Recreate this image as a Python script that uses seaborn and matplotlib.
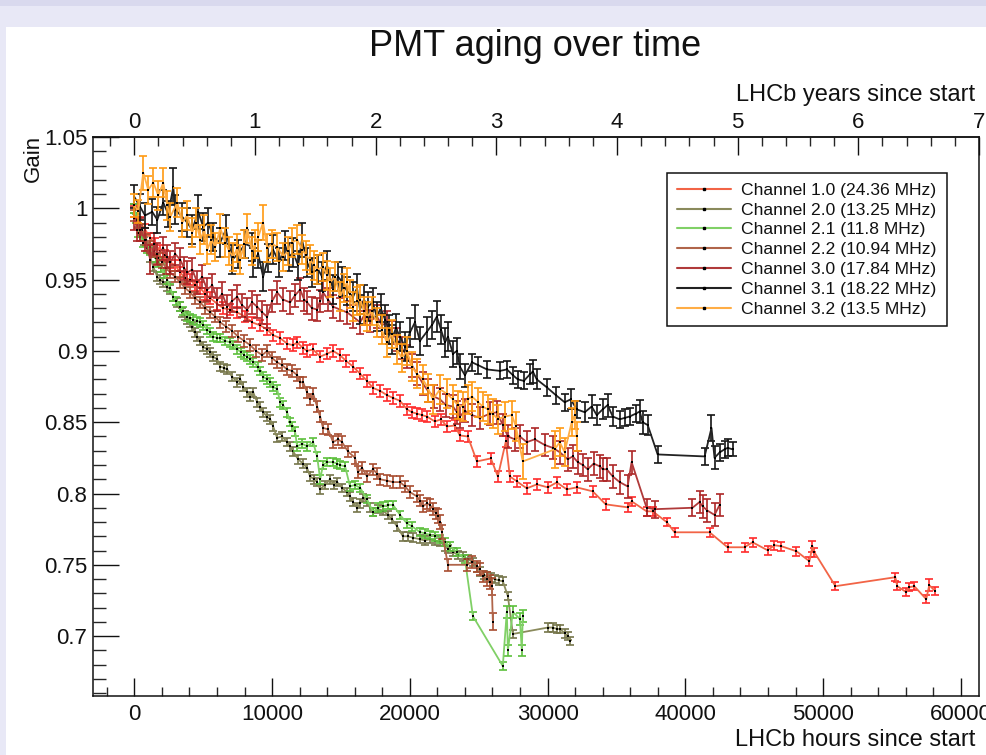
import numpy as np
import pandas as pd
import matplotlib
matplotlib.use("Agg")
import matplotlib.pyplot as plt
from matplotlib.lines import Line2D
from matplotlib.patches import Rectangle
from matplotlib.ticker import MultipleLocator, FuncFormatter
import seaborn as sns

# ---------------- data (hours, gain, error) ----------------
channel_names = [
    "Channel 1.0 (24.36 MHz)",
    "Channel 2.0 (13.25 MHz)",
    "Channel 2.1 (11.8 MHz)",
    "Channel 2.2 (10.94 MHz)",
    "Channel 3.0 (17.84 MHz)",
    "Channel 3.1 (18.22 MHz)",
    "Channel 3.2 (13.5 MHz)",
]
bar_colors = ["#ff2b2b", "#76764a", "#5cc03c", "#a84d30", "#ad2626", "#151515", "#ff9a12"]
line_colors = ["#f26446", "#8a8a5c", "#80d066", "#b0654a", "#b03a3a", "#222222", "#ffad45"]

ch10 = [(0, 0.998, 0.004), (430, 0.990, 0.004), (790, 0.985, 0.004), (1160, 0.979, 0.004),
        (1520, 0.975, 0.004), (1880, 0.970, 0.004), (2250, 0.967, 0.004), (2610, 0.962, 0.004),
        (2970, 0.960, 0.004), (3330, 0.955, 0.004), (3700, 0.951, 0.004), (4060, 0.950, 0.004),
        (4420, 0.946, 0.004), (4790, 0.944, 0.004), (5150, 0.940, 0.004), (5510, 0.937, 0.004),
        (6020, 0.933, 0.004), (6450, 0.930, 0.004), (6960, 0.929, 0.004), (7470, 0.927, 0.004),
        (8040, 0.924, 0.004), (8550, 0.920, 0.004), (9120, 0.918, 0.004), (9640, 0.915, 0.004),
        (10080, 0.911, 0.004), (10590, 0.909, 0.004), (11100, 0.905, 0.004), (11530, 0.904, 0.004),
        (11820, 0.906, 0.004), (12250, 0.902, 0.004), (12540, 0.900, 0.004), (12980, 0.901, 0.004),
        (13490, 0.896, 0.004), (13990, 0.898, 0.004), (14430, 0.900, 0.004), (14930, 0.897, 0.004),
        (15370, 0.893, 0.004), (15880, 0.889, 0.004), (16390, 0.884, 0.004), (16890, 0.879, 0.004),
        (17330, 0.874, 0.004), (17840, 0.872, 0.004), (18340, 0.869, 0.004), (18780, 0.867, 0.004),
        (19290, 0.865, 0.004), (19790, 0.859, 0.004), (20150, 0.857, 0.004), (20510, 0.856, 0.004),
        (20880, 0.855, 0.004), (21240, 0.854, 0.004), (21820, 0.8505, 0.004), (22260, 0.852, 0.004),
        (22690, 0.847, 0.004), (23270, 0.8477, 0.004), (23630, 0.8407, 0.004), (24210, 0.840, 0.004),
        (24870, 0.8225, 0.004), (25880, 0.8246, 0.004), (26390, 0.812, 0.004), (26970, 0.8365, 0.004),
        (27260, 0.812, 0.004), (27770, 0.8085, 0.004), (28490, 0.8036, 0.004), (29220, 0.8064, 0.004),
        (30020, 0.8043, 0.004), (30670, 0.8078, 0.004), (31390, 0.8029, 0.004), (32120, 0.8043, 0.004),
        (33280, 0.8015, 0.004), (34220, 0.7924, 0.004), (35815, 0.7903, 0.003), (36105, 0.7945, 0.003),
        (37190, 0.7875, 0.003), (37630, 0.7875, 0.003), (38640, 0.780, 0.003), (39220, 0.7728, 0.003),
        (41760, 0.7728, 0.003), (43065, 0.7623, 0.003), (44300, 0.7623, 0.003), (44880, 0.7658, 0.003),
        (45970, 0.7602, 0.003), (46470, 0.7637, 0.003), (46980, 0.763, 0.003), (48070, 0.7595, 0.003),
        (49010, 0.7525, 0.003), (49230, 0.763, 0.004), (49370, 0.7588, 0.003), (50900, 0.735, 0.003),
        (55245, 0.7413, 0.003), (55390, 0.735, 0.003), (56040, 0.7308, 0.003), (56260, 0.7343, 0.003),
        (56620, 0.735, 0.003), (57490, 0.7259, 0.003), (57710, 0.7357, 0.004), (58145, 0.7315, 0.003)]

ch20 = [(0, 1.000, 0.003), (290, 0.990, 0.003), (430, 0.983, 0.003), (720, 0.977, 0.003),
        (940, 0.973, 0.003), (1160, 0.965, 0.003), (1380, 0.959, 0.003), (1670, 0.952, 0.003),
        (1880, 0.950, 0.003), (2100, 0.948, 0.003), (2390, 0.945, 0.003), (2610, 0.943, 0.003),
        (2830, 0.938, 0.003), (3120, 0.934, 0.003), (3330, 0.931, 0.003), (3480, 0.927, 0.003),
        (3700, 0.925, 0.003), (3840, 0.922, 0.003), (4060, 0.920, 0.003), (4200, 0.917, 0.003),
        (4420, 0.913, 0.003), (4570, 0.910, 0.003), (4790, 0.907, 0.003), (5000, 0.903, 0.003),
        (5290, 0.901, 0.003), (5510, 0.899, 0.003), (5730, 0.896, 0.003), (6020, 0.894, 0.003),
        (6240, 0.889, 0.003), (6530, 0.888, 0.003), (6740, 0.887, 0.003), (7100, 0.882, 0.003),
        (7470, 0.878, 0.003), (7690, 0.880, 0.003), (7900, 0.875, 0.003), (8190, 0.871, 0.003),
        (8410, 0.868, 0.003), (8630, 0.871, 0.003), (8920, 0.864, 0.003), (9140, 0.861, 0.003),
        (9350, 0.857, 0.003), (9640, 0.854, 0.003), (9860, 0.852, 0.003), (10080, 0.847, 0.003),
        (10370, 0.839, 0.003), (10730, 0.840, 0.003), (11090, 0.836, 0.003), (11310, 0.833, 0.003),
        (11530, 0.8295, 0.003), (11890, 0.824, 0.003), (12250, 0.821, 0.003), (12540, 0.818, 0.003),
        (12760, 0.812, 0.003), (13050, 0.810, 0.003), (13270, 0.808, 0.003), (13490, 0.803, 0.003),
        (13850, 0.806, 0.003), (14210, 0.810, 0.003), (14500, 0.806, 0.003), (14720, 0.808, 0.003),
        (15080, 0.804, 0.003), (15440, 0.801, 0.003), (15660, 0.798, 0.003), (15880, 0.794, 0.003),
        (16170, 0.790, 0.003), (16390, 0.793, 0.003), (16600, 0.797, 0.003), (16890, 0.794, 0.003),
        (17110, 0.790, 0.003), (17330, 0.787, 0.003), (17690, 0.789, 0.003), (18050, 0.788, 0.003),
        (18420, 0.785, 0.003), (18700, 0.782, 0.003), (19070, 0.777, 0.003), (19500, 0.770, 0.003),
        (19860, 0.770, 0.003), (20220, 0.769, 0.003), (20730, 0.768, 0.003), (21100, 0.767, 0.003),
        (21460, 0.768, 0.003), (21820, 0.767, 0.003), (22190, 0.766, 0.003), (22550, 0.763, 0.003),
        (22770, 0.761, 0.003), (23130, 0.759, 0.003), (23490, 0.757, 0.003), (23850, 0.756, 0.003),
        (24210, 0.754, 0.003), (24580, 0.752, 0.003), (24870, 0.748, 0.003), (25090, 0.7455, 0.003),
        (25380, 0.743, 0.003), (25590, 0.742, 0.003), (25880, 0.741, 0.003), (26170, 0.740, 0.003),
        (26460, 0.739, 0.003), (26750, 0.7385, 0.003), (27120, 0.728, 0.003), (27480, 0.7015, 0.003),
        (30020, 0.706, 0.003), (30380, 0.706, 0.003), (30670, 0.705, 0.003), (30890, 0.705, 0.003),
        (31250, 0.702, 0.003), (31460, 0.700, 0.003), (31610, 0.6965, 0.003)]

ch21 = [(0, 1.000, 0.003), (140, 0.993, 0.003), (290, 0.983, 0.003), (430, 0.980, 0.003),
        (650, 0.976, 0.003), (940, 0.972, 0.003), (1160, 0.970, 0.003), (1380, 0.969, 0.003),
        (1600, 0.965, 0.003), (1740, 0.962, 0.003), (1960, 0.958, 0.003), (2180, 0.954, 0.003),
        (2390, 0.950, 0.003), (2610, 0.944, 0.003), (2830, 0.938, 0.003), (3050, 0.935, 0.003),
        (3330, 0.931, 0.003), (3550, 0.928, 0.003), (3840, 0.924, 0.003), (4060, 0.923, 0.003),
        (4280, 0.922, 0.003), (4570, 0.921, 0.003), (4790, 0.920, 0.003), (5000, 0.918, 0.003),
        (5290, 0.915, 0.003), (5510, 0.913, 0.003), (5730, 0.910, 0.003), (6020, 0.909, 0.003),
        (6240, 0.909, 0.003), (6600, 0.907, 0.003), (6960, 0.906, 0.003), (7180, 0.904, 0.003),
        (7470, 0.901, 0.003), (7760, 0.899, 0.003), (7980, 0.897, 0.003), (8190, 0.896, 0.003),
        (8410, 0.894, 0.003), (8630, 0.892, 0.003), (8990, 0.889, 0.003), (9140, 0.886, 0.003),
        (9350, 0.882, 0.003), (9640, 0.880, 0.003), (9860, 0.878, 0.003), (10080, 0.875, 0.003),
        (10370, 0.873, 0.003), (10590, 0.864, 0.003), (10800, 0.862, 0.003), (11090, 0.857, 0.003),
        (11310, 0.850, 0.003), (11450, 0.847, 0.003), (11670, 0.8435, 0.003), (11820, 0.833, 0.003),
        (12180, 0.835, 0.003), (12540, 0.833, 0.003), (12980, 0.836, 0.003), (13270, 0.826, 0.003),
        (13490, 0.810, 0.003), (13700, 0.820, 0.003), (13990, 0.822, 0.003), (14430, 0.822, 0.003),
        (14720, 0.821, 0.003), (14930, 0.820, 0.003), (15300, 0.819, 0.003), (15660, 0.805, 0.003),
        (16010, 0.806, 0.003), (16390, 0.804, 0.003), (16890, 0.796, 0.003), (17330, 0.787, 0.003),
        (17690, 0.790, 0.003), (18050, 0.791, 0.003), (18420, 0.792, 0.003), (18780, 0.792, 0.003),
        (19290, 0.785, 0.003), (19790, 0.779, 0.003), (20150, 0.777, 0.003), (20730, 0.773, 0.003),
        (21100, 0.772, 0.003), (21460, 0.771, 0.003), (21820, 0.770, 0.003), (22190, 0.768, 0.003),
        (22550, 0.766, 0.003), (22910, 0.763, 0.003), (23420, 0.759, 0.003), (24000, 0.754, 0.003),
        (24580, 0.714, 0.003), (26750, 0.679, 0.003), (27040, 0.717, 0.004), (27120, 0.690, 0.004),
        (27480, 0.717, 0.004), (27990, 0.712, 0.004), (28130, 0.690, 0.004), (28200, 0.714, 0.004)]

ch22 = [(0, 0.995, 0.004), (290, 0.990, 0.004), (580, 0.985, 0.004), (870, 0.978, 0.004),
        (1160, 0.973, 0.004), (1450, 0.970, 0.004), (1740, 0.965, 0.004), (2030, 0.962, 0.004),
        (2320, 0.958, 0.004), (2610, 0.955, 0.004), (2970, 0.952, 0.004), (3330, 0.948, 0.004),
        (3700, 0.944, 0.004), (4060, 0.941, 0.004), (4420, 0.937, 0.004), (4790, 0.934, 0.004),
        (5150, 0.930, 0.004), (5510, 0.927, 0.004), (5880, 0.924, 0.004), (6240, 0.920, 0.004),
        (6670, 0.917, 0.004), (7100, 0.914, 0.004), (7540, 0.910, 0.004), (7980, 0.907, 0.004),
        (8410, 0.904, 0.004), (8840, 0.900, 0.004), (9280, 0.897, 0.004), (9640, 0.900, 0.004),
        (10000, 0.895, 0.004), (10370, 0.892, 0.004), (10730, 0.890, 0.004), (11090, 0.887, 0.004),
        (11450, 0.886, 0.004), (11820, 0.883, 0.004), (12040, 0.878, 0.004), (12250, 0.878, 0.004),
        (12540, 0.871, 0.004), (12760, 0.866, 0.004), (12980, 0.870, 0.004), (13270, 0.861, 0.004),
        (13490, 0.854, 0.004), (13700, 0.846, 0.004), (14060, 0.845, 0.004), (14430, 0.836, 0.004),
        (14790, 0.838, 0.004), (15080, 0.836, 0.004), (15510, 0.8295, 0.004), (16020, 0.825, 0.004),
        (16240, 0.815, 0.004), (16530, 0.818, 0.004), (16890, 0.812, 0.004), (17330, 0.817, 0.004),
        (17620, 0.814, 0.004), (17840, 0.810, 0.004), (18340, 0.809, 0.004), (18780, 0.808, 0.004),
        (19290, 0.808, 0.004), (19650, 0.805, 0.004), (20010, 0.801, 0.004), (20510, 0.798, 0.004),
        (20730, 0.795, 0.004), (20950, 0.791, 0.004), (21240, 0.793, 0.004), (21460, 0.792, 0.004),
        (21680, 0.789, 0.004), (21890, 0.786, 0.004), (22040, 0.784, 0.005), (22190, 0.780, 0.005),
        (22330, 0.773, 0.005), (22770, 0.750, 0.004), (24150, 0.750, 0.004), (24510, 0.752, 0.004),
        (24870, 0.749, 0.004), (25090, 0.747, 0.004), (25300, 0.742, 0.004), (25590, 0.740, 0.005),
        (25810, 0.738, 0.005), (25950, 0.735, 0.006), (26030, 0.710, 0.006)]

ch30 = [(0, 0.993, 0.008), (210, 0.985, 0.008), (430, 0.985, 0.008), (790, 0.978, 0.008),
        (1160, 0.964, 0.010), (1450, 0.975, 0.008), (1670, 0.968, 0.008), (2100, 0.972, 0.008),
        (2390, 0.966, 0.008), (2610, 0.962, 0.008), (2970, 0.968, 0.008), (3330, 0.964, 0.008),
        (3620, 0.958, 0.008), (3840, 0.955, 0.008), (4210, 0.957, 0.008), (4570, 0.948, 0.008),
        (4930, 0.952, 0.008), (5290, 0.943, 0.008), (5660, 0.946, 0.008), (6020, 0.936, 0.008),
        (6380, 0.940, 0.008), (6740, 0.931, 0.008), (7100, 0.935, 0.008), (7470, 0.938, 0.008),
        (7830, 0.932, 0.008), (8190, 0.929, 0.008), (8550, 0.934, 0.008), (8920, 0.931, 0.008),
        (9280, 0.927, 0.008), (9640, 0.924, 0.008), (10000, 0.935, 0.008), (10370, 0.941, 0.008),
        (10800, 0.936, 0.008), (11310, 0.934, 0.008), (11670, 0.939, 0.008), (12040, 0.943, 0.008),
        (12330, 0.936, 0.008), (12540, 0.934, 0.008), (12900, 0.930, 0.008), (13270, 0.929, 0.008),
        (13490, 0.935, 0.008), (13700, 0.941, 0.008), (14060, 0.936, 0.008), (14430, 0.931, 0.008),
        (14930, 0.929, 0.008), (15440, 0.927, 0.008), (15880, 0.924, 0.008), (16390, 0.920, 0.008),
        (16750, 0.926, 0.008), (17110, 0.921, 0.008), (17620, 0.924, 0.008), (17980, 0.918, 0.008),
        (18340, 0.920, 0.008), (18700, 0.913, 0.008), (19070, 0.908, 0.008), (19430, 0.902, 0.008),
        (19790, 0.896, 0.008), (20150, 0.890, 0.008), (20510, 0.884, 0.008), (20950, 0.877, 0.008),
        (21310, 0.872, 0.008), (21750, 0.868, 0.008), (22190, 0.866, 0.008), (22620, 0.862, 0.008),
        (23130, 0.861, 0.008), (23420, 0.857, 0.008), (23640, 0.854, 0.008), (24000, 0.858, 0.008),
        (24510, 0.855, 0.008), (25090, 0.853, 0.008), (25810, 0.856, 0.008), (26320, 0.857, 0.008),
        (26750, 0.848, 0.008), (27120, 0.840, 0.008), (27620, 0.838, 0.008), (27990, 0.840, 0.008),
        (28490, 0.836, 0.008), (29070, 0.838, 0.008), (29800, 0.834, 0.008), (30380, 0.832, 0.008),
        (30880, 0.829, 0.008), (31460, 0.824, 0.008), (31830, 0.826, 0.008), (32190, 0.822, 0.008),
        (32550, 0.820, 0.008), (32910, 0.817, 0.008), (33350, 0.821, 0.008), (33790, 0.819, 0.008),
        (34000, 0.817, 0.008), (34290, 0.817, 0.008), (34730, 0.812, 0.008), (35230, 0.808, 0.008),
        (35810, 0.805, 0.008), (36100, 0.822, 0.008), (37190, 0.790, 0.006), (37770, 0.789, 0.006),
        (40520, 0.790, 0.006), (41030, 0.794, 0.008), (41250, 0.791, 0.008), (41610, 0.788, 0.008),
        (42120, 0.785, 0.008), (42490, 0.792, 0.008)]

ch31 = [(0, 1.008, 0.008), (420, 1.001, 0.009), (780, 0.995, 0.009), (1300, 0.9975, 0.009),
        (1670, 0.992, 0.009), (2100, 1.004, 0.009), (2460, 0.996, 0.009), (2830, 1.015, 0.013),
        (2970, 0.999, 0.010), (3480, 0.994, 0.010), (3840, 0.990, 0.010), (4200, 0.985, 0.010),
        (4640, 0.9975, 0.012), (5000, 0.987, 0.010), (5370, 0.990, 0.010), (5730, 0.980, 0.010),
        (6230, 0.976, 0.010), (6650, 0.985, 0.010), (7100, 0.964, 0.010), (7540, 0.968, 0.010),
        (8040, 0.975, 0.010), (8550, 0.973, 0.010), (8620, 0.962, 0.010), (8990, 0.968, 0.010),
        (9350, 0.952, 0.010), (9710, 0.965, 0.010), (10070, 0.971, 0.010), (10510, 0.962, 0.010),
        (10950, 0.974, 0.010), (11240, 0.966, 0.010), (11530, 0.969, 0.010), (11890, 0.960, 0.010),
        (12170, 0.978, 0.012), (12540, 0.962, 0.010), (12900, 0.955, 0.010), (13350, 0.957, 0.010),
        (13630, 0.952, 0.010), (13990, 0.960, 0.010), (14430, 0.943, 0.010), (14790, 0.952, 0.010),
        (15080, 0.9485, 0.010), (15440, 0.942, 0.010), (15880, 0.938, 0.010), (16170, 0.944, 0.010),
        (16380, 0.929, 0.010), (16670, 0.936, 0.010), (16950, 0.931, 0.010), (17310, 0.934, 0.010),
        (17600, 0.924, 0.010), (17890, 0.930, 0.010), (18200, 0.922, 0.010), (18480, 0.915, 0.010),
        (18700, 0.908, 0.010), (18990, 0.916, 0.010), (19290, 0.910, 0.010), (19640, 0.903, 0.010),
        (20010, 0.913, 0.010), (20370, 0.920, 0.012), (20730, 0.907, 0.010), (21240, 0.9135, 0.010),
        (21600, 0.918, 0.010), (21960, 0.924, 0.011), (22260, 0.915, 0.010), (22550, 0.906, 0.010),
        (22770, 0.910, 0.010), (23130, 0.898, 0.009), (23420, 0.900, 0.009), (23630, 0.889, 0.009),
        (24000, 0.883, 0.008), (24510, 0.892, 0.006), (24960, 0.890, 0.006), (25600, 0.887, 0.006),
        (26540, 0.886, 0.006), (27050, 0.887, 0.006), (27480, 0.883, 0.006), (27840, 0.880, 0.006),
        (28280, 0.879, 0.006), (28710, 0.8835, 0.007), (28930, 0.8855, 0.008), (29220, 0.880, 0.007),
        (29940, 0.8745, 0.006), (30600, 0.869, 0.006), (31240, 0.864, 0.006), (31680, 0.866, 0.007),
        (32120, 0.859, 0.006), (32700, 0.857, 0.007), (33200, 0.861, 0.008), (33570, 0.855, 0.007),
        (34000, 0.859, 0.007), (34360, 0.862, 0.008), (34730, 0.854, 0.007), (35230, 0.852, 0.006),
        (35590, 0.853, 0.006), (35960, 0.854, 0.006), (36400, 0.856, 0.006), (36690, 0.8575, 0.008),
        (36900, 0.850, 0.008), (37270, 0.848, 0.007), (37990, 0.8274, 0.006), (41400, 0.826, 0.006),
        (41900, 0.846, 0.009), (42120, 0.825, 0.008), (42490, 0.8288, 0.006), (42850, 0.831, 0.006),
        (43070, 0.832, 0.006), (43430, 0.831, 0.005)]

ch32 = [(0, 1.002, 0.008), (290, 0.998, 0.008), (650, 1.025, 0.012), (1010, 1.013, 0.010),
        (1380, 1.018, 0.010), (1740, 1.009, 0.010), (2100, 1.018, 0.010), (2390, 1.002, 0.010),
        (2610, 0.994, 0.010), (3120, 1.004, 0.010), (3480, 0.990, 0.010), (3840, 0.995, 0.010),
        (4200, 0.983, 0.010), (4490, 0.990, 0.010), (4790, 0.978, 0.010), (5080, 0.985, 0.010),
        (5300, 0.971, 0.010), (5590, 0.978, 0.010), (5880, 0.973, 0.010), (6240, 0.986, 0.010),
        (6600, 0.976, 0.010), (6890, 0.970, 0.010), (7180, 0.966, 0.010), (7470, 0.972, 0.010),
        (7690, 0.964, 0.010), (7980, 0.975, 0.010), (8190, 0.986, 0.010), (8550, 0.970, 0.010),
        (8770, 0.975, 0.010), (8990, 0.980, 0.010), (9350, 0.990, 0.012), (9640, 0.972, 0.010),
        (10000, 0.975, 0.010), (10370, 0.973, 0.010), (10800, 0.966, 0.010), (11160, 0.970, 0.010),
        (11450, 0.976, 0.010), (11820, 0.978, 0.010), (12180, 0.971, 0.010), (12470, 0.967, 0.010),
        (12760, 0.964, 0.010), (13050, 0.960, 0.010), (13270, 0.957, 0.010), (13700, 0.959, 0.010),
        (13990, 0.953, 0.010), (14200, 0.948, 0.010), (14570, 0.952, 0.010), (14930, 0.938, 0.010),
        (15220, 0.944, 0.010), (15440, 0.948, 0.010), (15660, 0.940, 0.010), (15880, 0.931, 0.010),
        (16170, 0.935, 0.010), (16390, 0.936, 0.010), (16670, 0.928, 0.010), (16890, 0.924, 0.010),
        (17250, 0.928, 0.010), (17600, 0.920, 0.010), (17960, 0.915, 0.010), (18330, 0.906, 0.010),
        (18700, 0.912, 0.010), (19060, 0.901, 0.010), (19420, 0.895, 0.010), (19790, 0.900, 0.010),
        (20150, 0.889, 0.010), (20510, 0.884, 0.010), (20950, 0.880, 0.010), (21310, 0.874, 0.010),
        (21670, 0.866, 0.010), (22190, 0.873, 0.010), (22690, 0.870, 0.010), (23130, 0.866, 0.010),
        (23490, 0.862, 0.010), (23850, 0.861, 0.010), (24210, 0.866, 0.010), (24510, 0.868, 0.010),
        (24960, 0.864, 0.010), (25300, 0.861, 0.010), (25660, 0.859, 0.010), (26030, 0.856, 0.010),
        (26390, 0.852, 0.010), (26900, 0.854, 0.010), (27410, 0.855, 0.010), (27700, 0.847, 0.010),
        (28200, 0.8225, 0.012), (30520, 0.831, 0.013), (30880, 0.836, 0.010), (31240, 0.829, 0.010),
        (31750, 0.850, 0.010), (31970, 0.855, 0.010), (32120, 0.840, 0.010)]

channel_data = [ch10, ch20, ch21, ch22, ch30, ch31, ch32]

year_hours = 8760.0
x_ticks = [0, 10000, 20000, 30000, 40000, 50000, 60000]
y_ticks = [0.7, 0.75, 0.8, 0.85, 0.9, 0.95, 1.0, 1.05]
year_ticks = [0, 1, 2, 3, 4, 5, 6, 7]

# ---------------- figure ----------------
sns.set_style("ticks")
plt.rcParams["font.family"] = ["Liberation Sans", "DejaVu Sans"]

W, H = 986, 755
fig = plt.figure(figsize=(W / 100, H / 100), dpi=100)
fig.patch.set_facecolor("#e8e8f6")
fig.add_artist(Rectangle((6 / W, 0), 1, (H - 27) / H, transform=fig.transFigure,
                         facecolor="white", edgecolor="none", zorder=0))
fig.add_artist(Rectangle((0, (H - 6) / H), 1, 6 / H, transform=fig.transFigure,
                         facecolor="#d9d9ee", edgecolor="none", zorder=0))

ax = fig.add_axes([93 / W, 59 / H, (979 - 93) / W, (696 - 137) / H])
ax.set_facecolor("white")

frames = []
for name, rows in zip(channel_names, channel_data):
    d = pd.DataFrame(rows, columns=["hours", "gain", "err"])
    d["channel"] = name
    frames.append(d)
df = pd.concat(frames, ignore_index=True)

for i, name in enumerate(channel_names):
    d = df[df["channel"] == name]
    z = 2 + i
    ax.errorbar(d["hours"], d["gain"], yerr=d["err"], fmt="none",
                ecolor=bar_colors[i], elinewidth=1.2, capsize=3, capthick=1.2, zorder=z)
    sns.lineplot(data=d, x="hours", y="gain", ax=ax, sort=False, estimator=None,
                 color=line_colors[i], linewidth=1.3, zorder=z + 0.3, legend=False)
    sns.scatterplot(data=d, x="hours", y="gain", ax=ax, color="black", marker="s",
                    s=3, linewidth=0, zorder=z + 0.5, legend=False)

ax.set_xlim(-3000, 7 * year_hours)
ax.set_ylim(0.658, 1.05)

fmt = FuncFormatter(lambda v, p: "%g" % round(v, 4))
ax.set_xticks(x_ticks)
ax.xaxis.set_minor_locator(MultipleLocator(2000))
ax.set_yticks(y_ticks)
ax.yaxis.set_minor_locator(MultipleLocator(0.01))
ax.yaxis.set_major_formatter(fmt)
ax.xaxis.set_major_formatter(fmt)

ax.tick_params(axis="x", which="major", direction="in", length=13, width=1.0,
               labelsize=16, pad=6, top=False, colors="#111111")
ax.tick_params(axis="x", which="minor", direction="in", length=6.5, width=1.0, top=False)
ax.tick_params(axis="y", which="major", direction="in", length=18.5, width=1.0,
               labelsize=16, pad=4, right=False, colors="#111111")
ax.tick_params(axis="y", which="minor", direction="in", length=9.5, width=1.0, right=False)
ax.set_xlabel("")
ax.set_ylabel("")
for s in ax.spines.values():
    s.set_linewidth(1.1)
    s.set_color("#111111")
    s.set_visible(True)

sec = ax.secondary_xaxis("top", functions=(lambda h: h / year_hours, lambda y: y * year_hours))
sec.set_xticks(year_ticks)
sec.xaxis.set_minor_locator(MultipleLocator(0.2))
sec.xaxis.set_major_formatter(FuncFormatter(lambda v, p: "%g" % v))
sec.tick_params(axis="x", which="major", direction="in", length=13, width=1.0,
                labelsize=16, pad=3, colors="#111111")
sec.tick_params(axis="x", which="minor", direction="in", length=6.5, width=1.0)
sec.spines["top"].set_linewidth(1.1)

fig.text(535 / W, 1 - 47 / H, "PMT aging over time", ha="center", va="center",
         fontsize=26, color="#111111")
fig.text(975 / W, 1 - 740 / H, "LHCb hours since start", ha="right", va="center",
         fontsize=17, color="#111111")
fig.text(975 / W, 1 - 95 / H, "LHCb years since start", ha="right", va="center",
         fontsize=17, color="#111111")
fig.text(33 / W, 1 - 135 / H, "Gain", ha="center", va="top", rotation=90,
         fontsize=16, color="#111111")

handles = [Line2D([0], [0], color=line_colors[i], lw=1.5, marker="s", markersize=2,
                  markerfacecolor="black", markeredgecolor="black")
           for i in range(len(channel_names))]
leg = ax.legend(handles, channel_names, loc="upper left",
                bbox_to_anchor=(667 / W, 1 - 173 / H), bbox_transform=fig.transFigure,
                borderaxespad=0, fontsize=12.6, frameon=True, fancybox=False,
                framealpha=1, edgecolor="#111111", handlelength=3.1, handletextpad=0.6,
                labelspacing=0.26, borderpad=0.55, numpoints=1)
leg.get_frame().set_linewidth(1.1)
for t in leg.get_texts():
    t.set_color("#111111")
leg.set_zorder(20)

fig.savefig("out.png", dpi=100, facecolor=fig.get_facecolor())
